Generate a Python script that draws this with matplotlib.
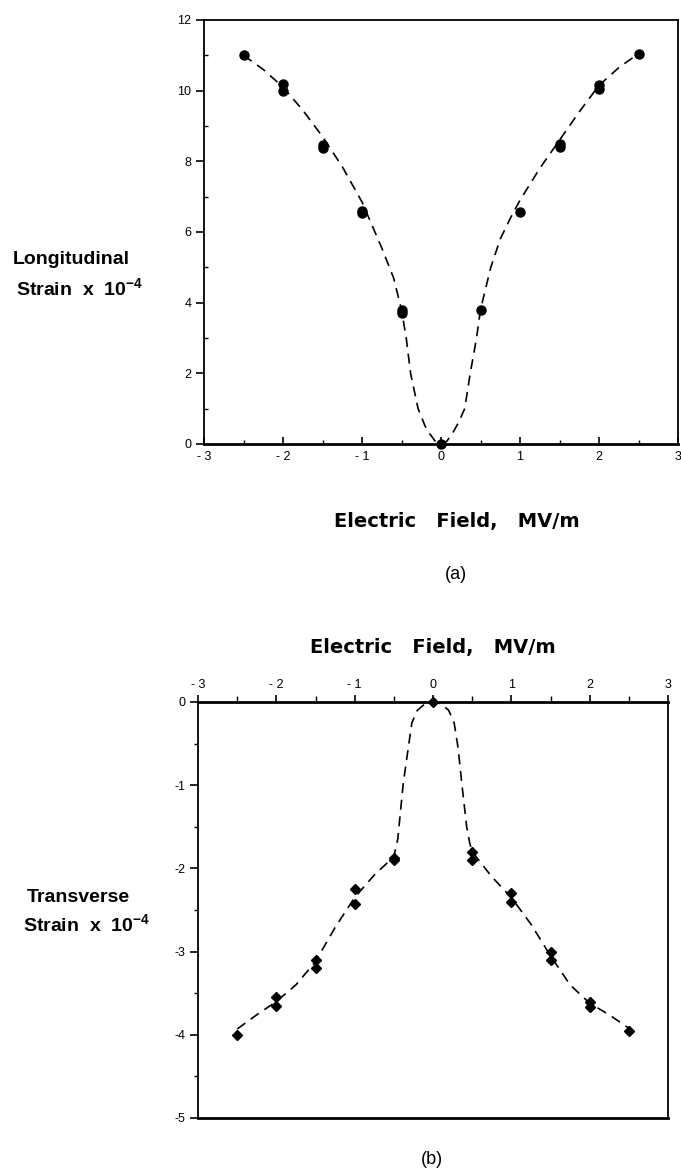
import matplotlib
matplotlib.use("Agg")
import matplotlib.pyplot as plt
from matplotlib.ticker import MultipleLocator

plt.rcParams['font.family'] = ['Liberation Sans', 'DejaVu Sans']
plt.rcParams['mathtext.fontset'] = 'custom'
plt.rcParams['mathtext.rm'] = 'Liberation Sans'
plt.rcParams['mathtext.default'] = 'regular'

# ---------------- data: (a) longitudinal strain ----------------
a_field = [-2.5, -2.0, -2.0, -1.5, -1.5, -1.0, -1.0, -0.5, -0.5, 0.0,
           0.5, 1.0, 1.5, 1.5, 2.0, 2.0, 2.5]
a_strain = [11.0, 10.2, 10.0, 8.45, 8.38, 6.6, 6.55, 3.8, 3.72, 0.0,
            3.8, 6.58, 8.5, 8.4, 10.15, 10.05, 11.05]

a_curve_x = [-2.5, -2.25, -2.0, -1.75, -1.5, -1.25, -1.0, -0.75, -0.6, -0.5,
             -0.44, -0.385, -0.29, -0.2, -0.14, -0.07, 0.0,
             0.07, 0.14, 0.22, 0.30, 0.37, 0.45, 0.5, 0.63, 0.75, 0.88,
             1.0, 1.25, 1.5, 1.75, 2.0, 2.25, 2.5]
a_curve_y = [11.0, 10.6, 10.1, 9.45, 8.7, 7.85, 6.85, 5.55, 4.7, 3.8,
             3.0, 2.0, 1.0, 0.5, 0.28, 0.07, 0.0,
             0.07, 0.28, 0.6, 1.0, 2.0, 3.0, 3.8, 5.0, 5.8, 6.4,
             6.9, 7.8, 8.6, 9.4, 10.15, 10.65, 11.05]

# ---------------- data: (b) transverse strain ----------------
b_field = [-2.5, -2.0, -2.0, -1.5, -1.5, -1.0, -1.0, -0.5, -0.5, 0.0,
           0.5, 0.5, 1.0, 1.0, 1.5, 1.5, 2.0, 2.0, 2.5]
b_strain = [-4.0, -3.55, -3.65, -3.1, -3.2, -2.25, -2.43, -1.87, -1.9, 0.0,
            -1.8, -1.9, -2.3, -2.4, -3.0, -3.1, -3.6, -3.66, -3.95]

b_curve_x = [-2.5, -2.25, -2.0, -1.75, -1.5, -1.25, -1.0, -0.75, -0.5,
             -0.45, -0.43, -0.38, -0.32, -0.27, -0.2, -0.1, 0.0,
             0.1, 0.2, 0.27, 0.32, 0.37, 0.43, 0.47, 0.5,
             0.75, 1.0, 1.25, 1.5, 1.75, 2.0, 2.25, 2.5]
b_curve_y = [-3.93, -3.76, -3.6, -3.4, -3.12, -2.71, -2.35, -2.08, -1.86,
             -1.65, -1.46, -0.98, -0.58, -0.25, -0.1, -0.02, 0.0,
             -0.02, -0.1, -0.25, -0.55, -1.0, -1.5, -1.7, -1.8,
             -2.1, -2.35, -2.67, -3.05, -3.4, -3.62, -3.76, -3.92]

x_ticks = [-3, -2, -1, 0, 1, 2, 3]
x_ticklabels = ['- 3', '- 2', '- 1', '0', '1', '2', '3']
a_yticks = [0, 2, 4, 6, 8, 10, 12]
b_yticks = [0, -1, -2, -3, -4, -5]

TITLE_FONT = dict(family=['DejaVu Sans'], fontsize=14, fontweight='bold')
YLAB_FONT = dict(fontsize=14, fontweight='bold')

fig = plt.figure(figsize=(6.81, 11.72), dpi=100)

# ---------------- panel (a) ----------------
ax1 = fig.add_axes([204 / 681, 1 - 444 / 1172, 474 / 681, 424 / 1172])
ax1.plot(a_curve_x, a_curve_y, color='black', lw=1.2, dashes=(6, 4))
ax1.plot(a_field, a_strain, 'o', color='black', ms=6.5, zorder=5, clip_on=False)
ax1.set_xlim(-3, 3)
ax1.set_ylim(0, 12)
ax1.set_xticks(x_ticks)
ax1.set_xticklabels(x_ticklabels)
ax1.set_yticks(a_yticks)
ax1.xaxis.set_minor_locator(MultipleLocator(0.5))
ax1.yaxis.set_minor_locator(MultipleLocator(1))
ax1.tick_params(axis='x', which='major', direction='in', length=5, width=1.2,
                labelsize=9, pad=5)
ax1.tick_params(axis='x', which='minor', direction='in', length=3, width=1)
ax1.tick_params(axis='y', which='major', direction='out', length=6, width=1.2,
                labelsize=9, pad=3)
ax1.tick_params(axis='y', which='minor', direction='in', length=3, width=1)
for s in ax1.spines.values():
    s.set_linewidth(1.3)
ax1.spines['bottom'].set_linewidth(2.0)

fig.text(457 / 681, 1 - 521 / 1172, 'Electric   Field,   MV/m', ha='center',
         va='center', **TITLE_FONT)
fig.text(456 / 681, 1 - 574 / 1172, '(a)', ha='center', va='center', fontsize=13)
fig.text(13 / 681, 1 - 260 / 1172, 'Longitudinal', ha='left', va='center',
         **YLAB_FONT)
fig.text(16 / 681, 1 - 288 / 1172, 'Strain  x  10$^{-4}$', ha='left',
         va='center', **YLAB_FONT)

# ---------------- panel (b) ----------------
ax2 = fig.add_axes([198 / 681, 1 - 1118 / 1172, 470 / 681, 416 / 1172])
ax2.plot(b_curve_x, b_curve_y, color='black', lw=1.2, dashes=(6, 4))
ax2.plot(b_field, b_strain, 'D', color='black', ms=5, zorder=5, clip_on=False)
ax2.set_xlim(-3, 3)
ax2.set_ylim(-5, 0)
ax2.xaxis.tick_top()
ax2.set_xticks(x_ticks)
ax2.set_xticklabels(x_ticklabels)
ax2.set_yticks(b_yticks)
ax2.set_yticklabels([str(v) for v in b_yticks])
ax2.xaxis.set_minor_locator(MultipleLocator(0.5))
ax2.yaxis.set_minor_locator(MultipleLocator(0.5))
ax2.tick_params(axis='x', which='major', direction='out', length=5, width=1.2,
                labelsize=9, pad=3)
ax2.tick_params(axis='x', which='minor', direction='out', length=4, width=1)
ax2.tick_params(axis='y', which='major', direction='out', length=6, width=1.2,
                labelsize=9, pad=3)
ax2.tick_params(axis='y', which='minor', direction='out', length=3, width=1)
for s in ax2.spines.values():
    s.set_linewidth(1.3)
ax2.spines['top'].set_linewidth(2.0)
ax2.spines['bottom'].set_linewidth(2.0)

fig.text(433 / 681, 1 - 648 / 1172, 'Electric   Field,   MV/m', ha='center',
         va='center', **TITLE_FONT)
fig.text(432 / 681, 1 - 1160 / 1172, '(b)', ha='center', va='center', fontsize=13)
fig.text(27 / 681, 1 - 897 / 1172, 'Transverse', ha='left', va='center',
         **YLAB_FONT)
fig.text(23 / 681, 1 - 924 / 1172, 'Strain  x  10$^{-4}$', ha='left',
         va='center', **YLAB_FONT)

fig.savefig('out.png', dpi=100, facecolor='white')
